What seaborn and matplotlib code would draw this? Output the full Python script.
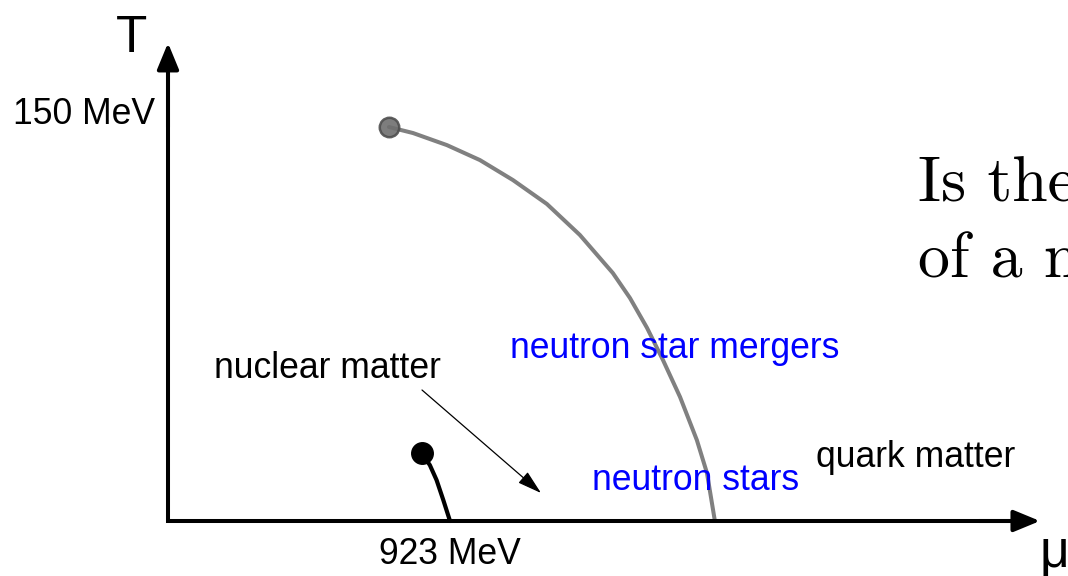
import numpy as np
import pandas as pd
import matplotlib
matplotlib.use("Agg")
import matplotlib.pyplot as plt
import seaborn as sns

# ---- data (MeV) ----
crossover_mu = [723, 802, 913, 1021, 1129, 1240, 1348, 1456, 1512, 1568, 1620, 1676, 1731, 1764, 1790]
crossover_T = [150, 147.7, 143.1, 137.4, 129.8, 120.7, 108.9, 94.4, 84.9, 73.5, 61.3, 47.2, 30.8, 18.3, 0]
nuclear_mu = [830, 857, 879, 901, 923]
nuclear_T = [25.8, 21.3, 15.6, 8.0, 0]
axis_mu_max = 2854
axis_T_max = 180
T_label = "150 MeV"
mu_label = "923 MeV"

sns.set_theme(style="white")
plt.rcParams["font.family"] = ["Liberation Sans", "DejaVu Sans"]

W, H = 1068, 576
fig = plt.figure(figsize=(W / 100, H / 100), dpi=100)
ax = fig.add_axes([0, 0, 1, 1])
# pixel mapping: mu=0 at x=168, 923 MeV per 282 px; T=0 at y=521, 150 MeV per 394 px
sx = 923 / 282
sy = 150 / 394
ax.set_xlim(-168 * sx, (W - 168) * sx)
ax.set_ylim(-(H - 521) * sy, 521 * sy)
ax.axis("off")

# axes with arrows
ax.plot([0, 0, axis_mu_max - 40], [axis_T_max - 5, 0, 0], color="black", lw=2.9,
        solid_joinstyle="miter", solid_capstyle="butt", zorder=3)
arrow_kw = dict(arrowstyle="-|>,head_length=0.8,head_width=0.33", color="black",
                lw=2.9, shrinkA=0, shrinkB=0, mutation_scale=20)
ax.annotate("", xy=(axis_mu_max, 0), xytext=(axis_mu_max - 200, 0), arrowprops=arrow_kw, zorder=3)
ax.annotate("", xy=(0, axis_T_max + 2), xytext=(0, axis_T_max - 30), arrowprops=arrow_kw, zorder=3)

# crossover line
df_c = pd.DataFrame({"mu": crossover_mu, "T": crossover_T})
sns.lineplot(data=df_c, x="mu", y="T", sort=False, color="#808080", lw=2.9, ax=ax, zorder=2)
ax.lines[-1].set_solid_joinstyle("round")
ax.plot([crossover_mu[0]], [crossover_T[0]], marker="o", ms=14, mfc="#6f6f6f",
        mec="#4f4f4f", mew=1.8, alpha=0.9, zorder=4)

# nuclear liquid-gas line
df_n = pd.DataFrame({"mu": nuclear_mu, "T": nuclear_T})
sns.lineplot(data=df_n, x="mu", y="T", sort=False, color="black", lw=3.0, ax=ax, zorder=2)
ax.lines[-1].set_solid_joinstyle("round")
ax.plot([nuclear_mu[0]], [nuclear_T[0]], marker="o", ms=15.5, color="black", zorder=4)

def px(x, y):
    return ((x - 168) * sx, (521 - y) * sy)

# arrow from "nuclear matter"
ax.annotate("", xy=px(541, 493), xytext=px(422, 390),
            arrowprops=dict(arrowstyle="-|>,head_length=0.75,head_width=0.22", color="black",
                            lw=0.9, shrinkA=0, shrinkB=0, mutation_scale=20))

fs = 25.6
ax.text(*px(155, 124.5), T_label, ha="right", va="baseline", fontsize=fs, color="black")
ax.text(923, px(0, 564.5)[1], mu_label, ha="center", va="baseline", fontsize=fs, color="black")
ax.text(*px(132, 52), "T", ha="center", va="baseline", fontsize=37, color="black")
ax.text(*px(1040, 567), "μ", ha="left", va="baseline", fontsize=37, color="black")
ax.text(*px(214, 378), "nuclear matter", ha="left", va="baseline", fontsize=fs, color="black")
ax.text(*px(510, 358), "neutron star mergers", ha="left", va="baseline", fontsize=fs, color="#0000ff")
ax.text(*px(592, 490), "neutron stars", ha="left", va="baseline", fontsize=fs, color="#0000ff")
ax.text(*px(816, 467), "quark matter", ha="left", va="baseline", fontsize=fs, color="black")

ax.text(*px(918, 201), "Is the", ha="left", va="baseline", fontsize=46, family="cmr10",
        color="black", clip_on=False)
ax.text(*px(918, 278), "of a n", ha="left", va="baseline", fontsize=46, family="cmr10",
        color="black", clip_on=False)

fig.savefig("out.png", dpi=100)
